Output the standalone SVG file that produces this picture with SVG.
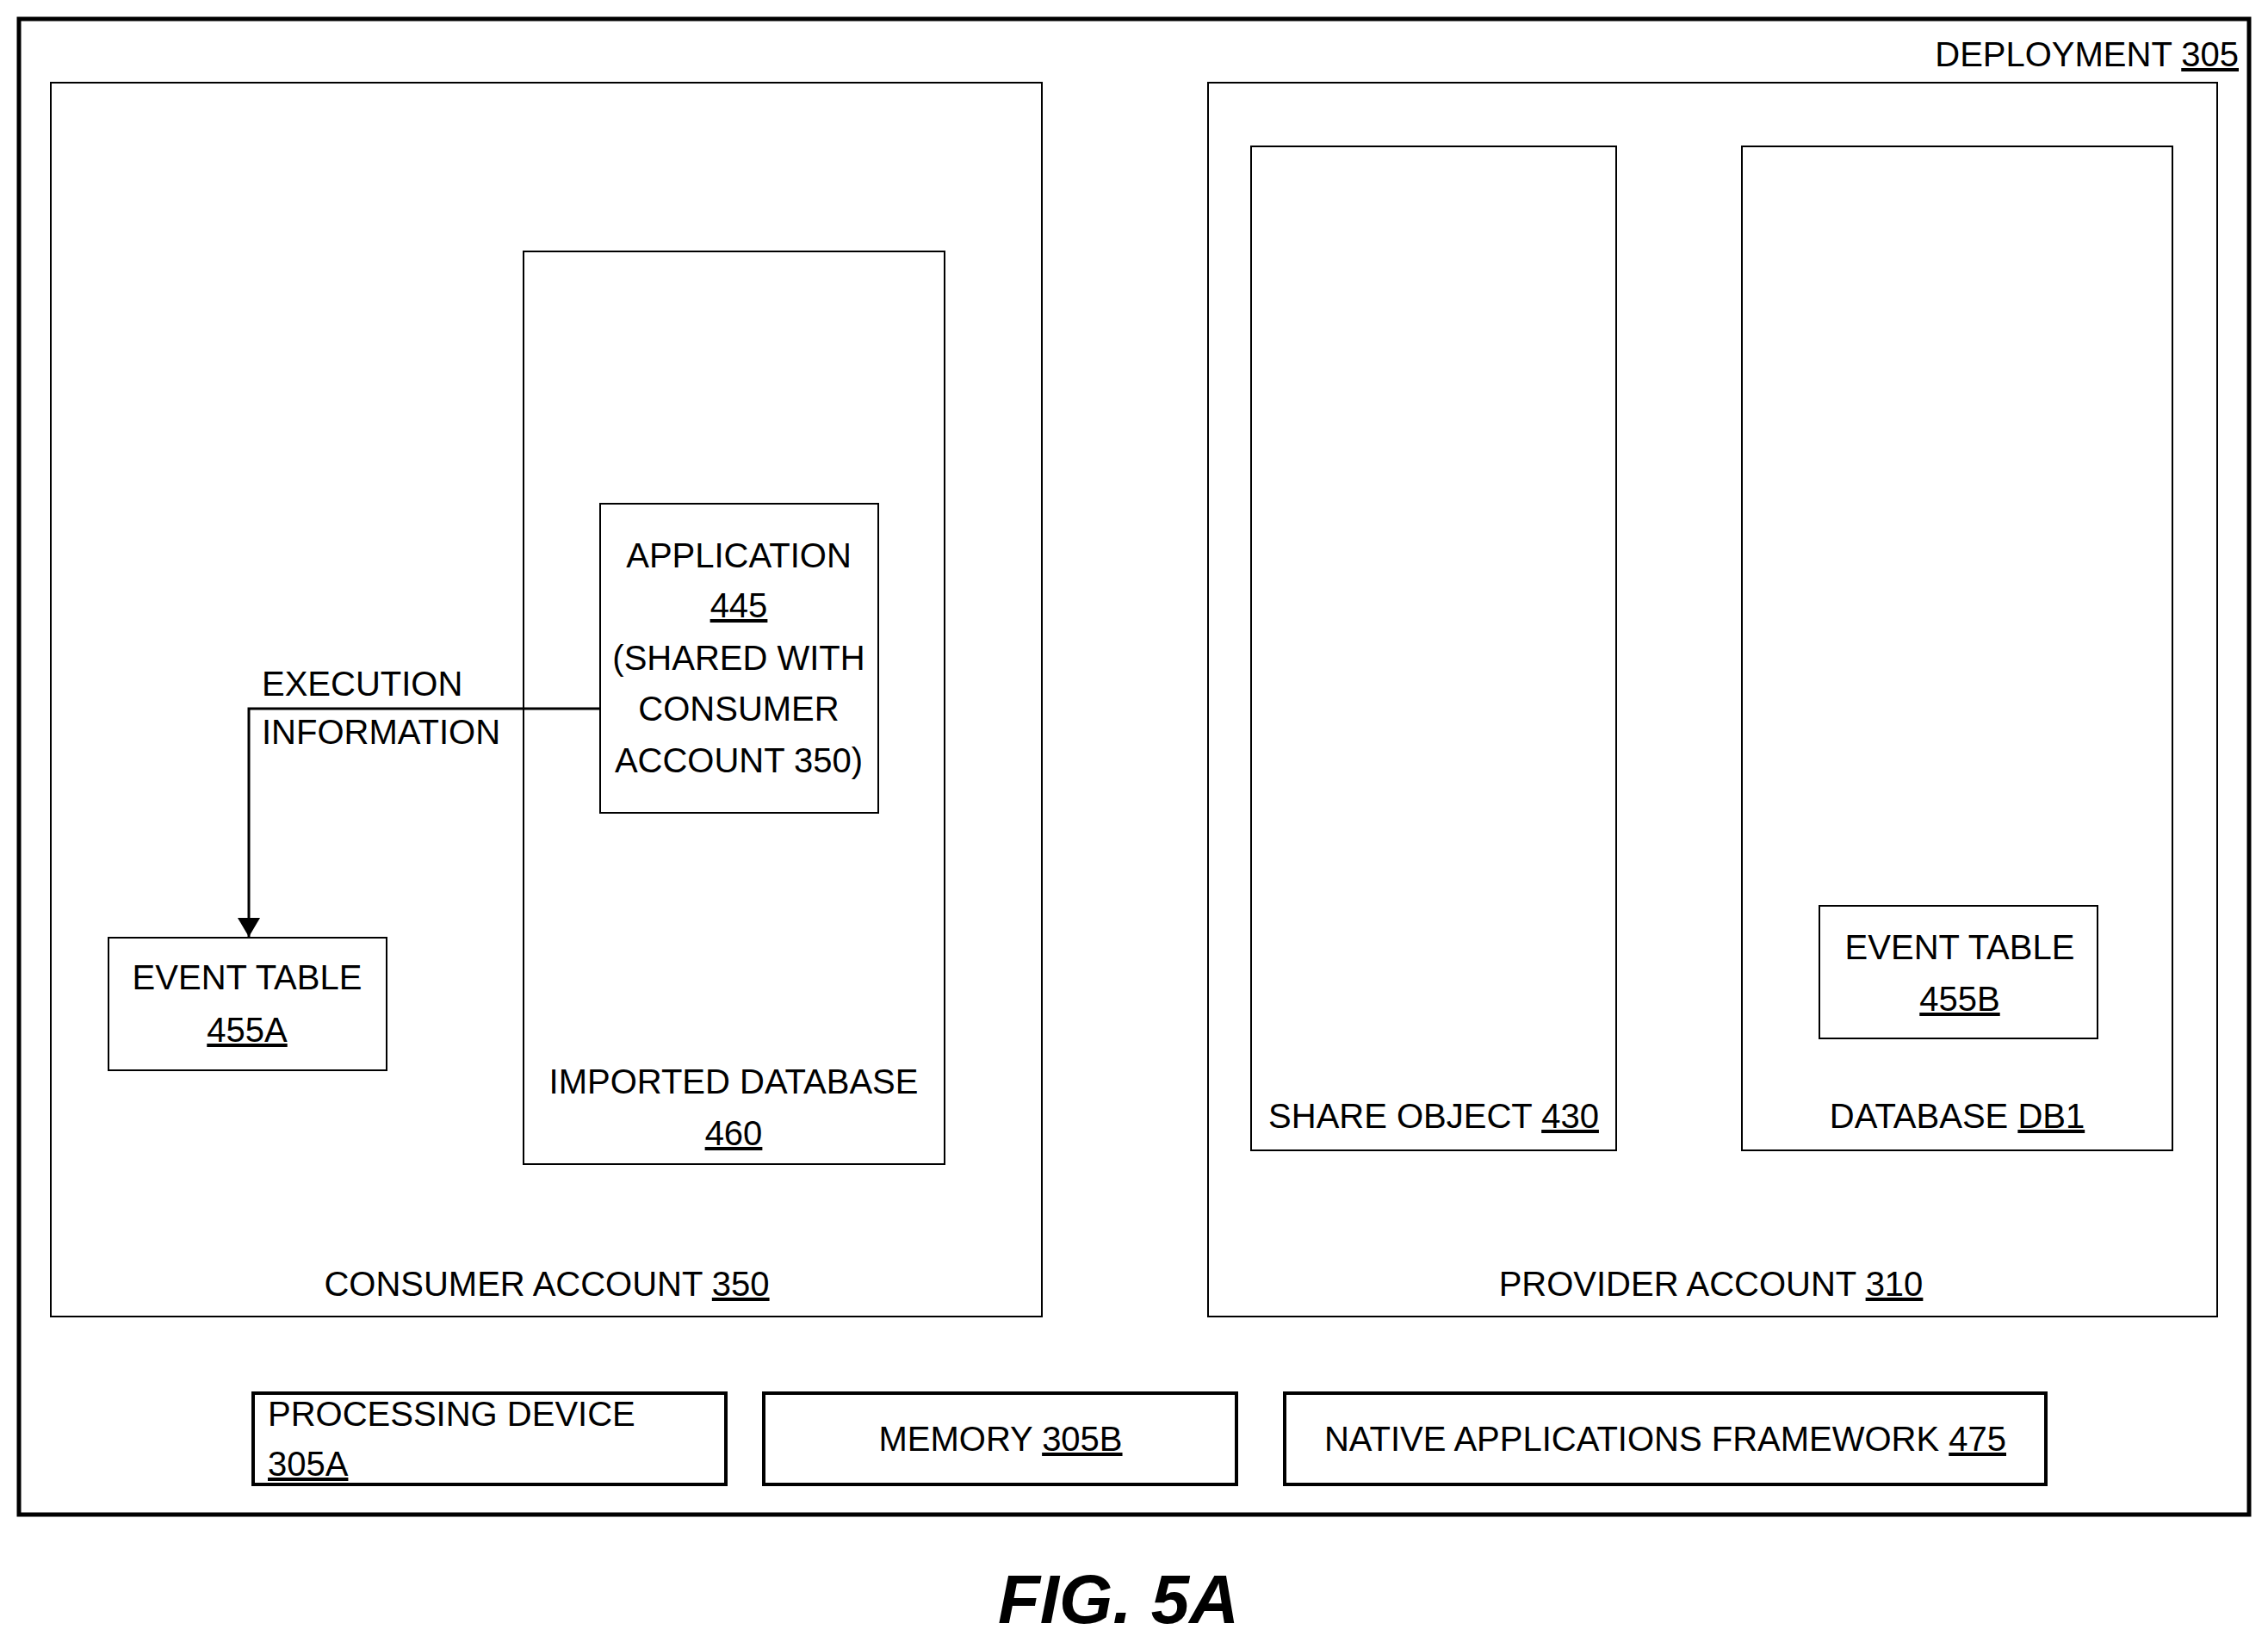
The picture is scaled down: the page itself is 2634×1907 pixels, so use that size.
<svg xmlns="http://www.w3.org/2000/svg" width="2634" height="1907" viewBox="0 0 2634 1907">
<style>
.b{fill:none;stroke:#000;stroke-width:2}
.k{fill:none;stroke:#000;stroke-width:4}
text{font-family:"Liberation Sans",Arial,sans-serif;font-size:40px;fill:#000}
.m{text-anchor:middle}
.u{text-decoration:underline}
</style>
<defs><marker id="ah" markerWidth="22" markerHeight="26" refX="22" refY="13" orient="auto" markerUnits="userSpaceOnUse" viewBox="0 0 22 26"><path d="M0,0 L22,13 L0,26 z" fill="#000"/></marker></defs>
<rect width="2634" height="1907" fill="#fff"/>
<g id="deployment"><rect x="22" y="22" width="2590" height="1737" fill="none" stroke="#000" stroke-width="5"/><text x="2600" y="77" text-anchor="end">DEPLOYMENT <tspan class="u">305</tspan></text></g>
<g id="consumer"><rect class="b" x="59" y="96" width="1151" height="1433"/><text class="m" x="635" y="1505">CONSUMER ACCOUNT <tspan class="u">350</tspan></text></g>
<g id="imported"><rect class="b" x="608" y="292" width="489" height="1060"/><text class="m" x="852" y="1270">IMPORTED DATABASE</text><text class="m u" x="852" y="1330">460</text></g>
<g id="application"><rect class="b" x="697" y="585" width="323" height="359"/>
<text class="m" x="858" y="659">APPLICATION</text><text class="m u" x="858" y="717">445</text><text class="m" x="858" y="778">(SHARED WITH</text><text class="m" x="858" y="837">CONSUMER</text><text class="m" x="858" y="897">ACCOUNT 350)</text></g>
<g id="event455a"><rect class="b" x="126" y="1089" width="323" height="154"/><text class="m" x="287" y="1149">EVENT TABLE</text><text class="m u" x="287" y="1210">455A</text></g>
<g id="provider"><rect class="b" x="1403" y="96" width="1172" height="1433"/><text class="m" x="1987" y="1505">PROVIDER ACCOUNT <tspan class="u">310</tspan></text></g>
<g id="share"><rect class="b" x="1453" y="170" width="424" height="1166"/><text class="m" x="1665" y="1310">SHARE OBJECT <tspan class="u">430</tspan></text></g>
<g id="db1"><rect class="b" x="2023" y="170" width="500" height="1166"/><text class="m" x="2273" y="1310">DATABASE <tspan class="u">DB1</tspan></text></g>
<g id="event455b"><rect class="b" x="2113" y="1052" width="323" height="154"/><text class="m" x="2276" y="1114">EVENT TABLE</text><text class="m u" x="2276" y="1174">455B</text></g>
<g id="processing"><rect class="k" x="294" y="1618" width="549" height="106"/><text x="311" y="1656">PROCESSING DEVICE</text><text class="u" x="311" y="1714">305A</text></g>
<g id="memory"><rect class="k" x="887" y="1618" width="549" height="106"/><text class="m" x="1162" y="1685">MEMORY <tspan class="u">305B</tspan></text></g>
<g id="native"><rect class="k" x="1492" y="1618" width="884" height="106"/><text class="m" x="1934" y="1685">NATIVE APPLICATIONS FRAMEWORK <tspan class="u">475</tspan></text></g>
<g id="connectors"><path d="M697,823 H289 V1088" fill="none" stroke="#000" stroke-width="3" marker-end="url(#ah)"/>
<text x="304" y="808">EXECUTION</text><text x="304" y="864">INFORMATION</text></g>
<text x="1299" y="1885" text-anchor="middle" style="font-size:80px;font-weight:bold;font-style:italic">FIG. 5A</text>
</svg>
